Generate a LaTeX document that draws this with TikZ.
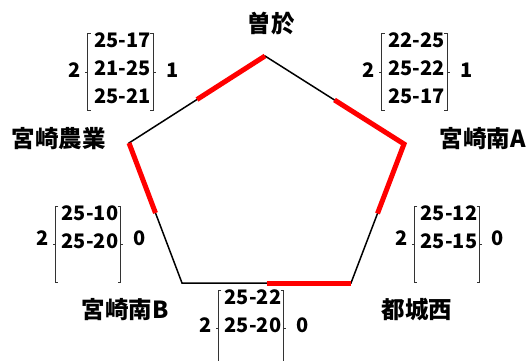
\documentclass[tikz,border=0pt]{standalone}
\usepackage{fontspec}
\setmainfont{Noto Sans CJK JP}
\usepackage{tikz}
\usetikzlibrary{calc}

\begin{document}
\begin{tikzpicture}[x=1pt,y=-1pt,
  team/.style={font=\bfseries\fontsize{23.5}{23.5}\selectfont, inner sep=0pt},
  score/.style={font=\bfseries\fontsize{20}{28}\selectfont, align=center, inner sep=0pt, anchor=north},
  sets/.style={font=\bfseries\fontsize{20}{20}\selectfont, inner sep=0pt},
  box/.style={minimum width=65pt, minimum height=76pt, inner sep=0pt},
  edge/.style={line width=1.5pt},
  win/.style={red, line width=5pt},
  bracket/.style={line width=0.8pt, black!80}]
\useasboundingbox (0,0) rectangle (528,361);
% Pentagon Corners
\coordinate (T) at (265,56);
\coordinate (R) at (404,144);
\coordinate (BR) at (351,283);
\coordinate (BL) at (182,283);
\coordinate (L) at (129,143);
% Team Names
\node[team] (soo) at (271,24) {曽於};
\node[team] (mna) at (483,139) {宮崎南A};
\node[team] (tjn) at (417,310) {都城西};
\node[team] (mnb) at (125,310) {宮崎南B};
\node[team] (mno) at (59,139) {宮崎農業};
% Match Edges
\draw[edge] (T) -- (R) -- (BR) -- (BL) -- (L) -- cycle;
% Winner Halves
\draw[win] (T) -- ($(T)!0.5!(L)$);
\draw[win] ($(T)!0.5!(R)$) -- (R) -- ($(R)!0.5!(BR)$);
\draw[win] (L) -- ($(L)!0.5!(BL)$);
\draw[win] ($(BL)!0.5!(BR)$) -- (BR);
% Set Scores
\node[box] (b1) at (120.5,72) {};
\node[box] (b2) at (414.5,72) {};
\node[box] (b3) at (88,244.5) {};
\node[box] (b4) at (447,244.5) {};
\node[box] (b5) at (251,328.5) {};
\foreach \b in {b1,b2,b3,b4,b5} {
  \draw[bracket] ([xshift=3pt]\b.north west) -- (\b.north west) -- (\b.south west) -- ++(3,0);
  \draw[bracket] ([xshift=-3pt]\b.north east) -- (\b.north east) -- (\b.south east) -- ++(-3,0);
  \draw[bracket] (\b.west) -- ++(-2.5,0);
  \draw[bracket] (\b.east) -- ++(2.5,0);
}
\node[score] (s1) at (122.5,32.5) {25-17\\21-25\\25-21};
\node[score] (s2) at (416.5,32.5) {22-25\\25-22\\25-17};
\node[score] (s3) at (90,205) {25-10\\25-20};
\node[score] (s4) at (449,205) {25-12\\25-15};
\node[score] (s5) at (253,289) {25-22\\25-20};
% Sets Won
\node[sets] (w1) at (75,70) {2};
\node[sets] (l1) at (173,70) {1};
\node[sets] (w2) at (369,70) {2};
\node[sets] (l2) at (467,70) {1};
\node[sets] (w3) at (43,238) {2};
\node[sets] (l3) at (140,238) {0};
\node[sets] (w4) at (402,238) {2};
\node[sets] (l4) at (498,238) {0};
\node[sets] (w5) at (206,325) {2};
\node[sets] (l5) at (303,325) {0};
\end{tikzpicture}
\end{document}
